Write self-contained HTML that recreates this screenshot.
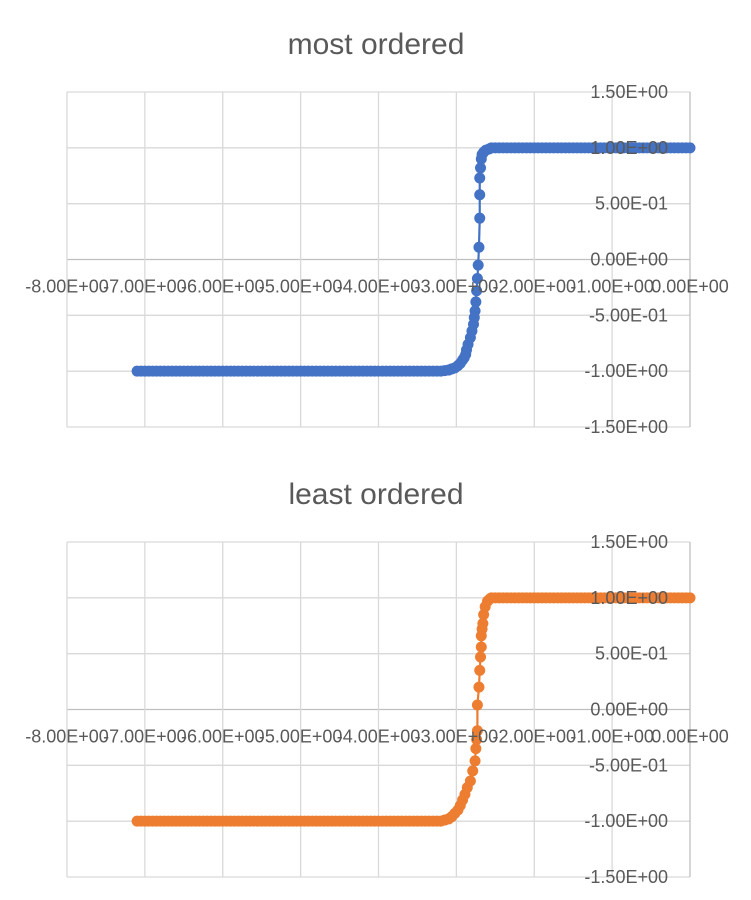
<!DOCTYPE html>
<html><head><meta charset="utf-8">
<style>
body{margin:0;background:#fff;}
svg{display:block;font-family:"Liberation Sans",sans-serif;}
</style></head>
<body>
<svg id="c" width="751" height="900"></svg>
<script>
const xTicks=[-8,-7,-6,-5,-4,-3,-2,-1,0];
const xTickLabels=["-8.00E+00","-7.00E+00","-6.00E+00","-5.00E+00","-4.00E+00","-3.00E+00","-2.00E+00","-1.00E+00","0.00E+00"];
const yTicks=[1.5,1,0.5,0,-0.5,-1,-1.5];
const yTickLabels=["1.50E+00","1.00E+00","5.00E-01","0.00E+00","-5.00E-01","-1.00E+00","-1.50E+00"];
const flatLeftX=[-7.1,-7.05,-7.0,-6.95,-6.9,-6.85,-6.8,-6.75,-6.7,-6.65,-6.6,-6.55,-6.5,-6.45,-6.4,-6.35,-6.3,-6.25,-6.2,-6.15,-6.1,-6.05,-6.0,-5.95,-5.9,-5.85,-5.8,-5.75,-5.7,-5.65,-5.6,-5.55,-5.5,-5.45,-5.4,-5.35,-5.3,-5.25,-5.2,-5.15,-5.1,-5.05,-5.0,-4.95,-4.9,-4.85,-4.8,-4.75,-4.7,-4.65,-4.6,-4.55,-4.5,-4.45,-4.4,-4.35,-4.3,-4.25,-4.2,-4.15,-4.1,-4.05,-4.0,-3.95,-3.9,-3.85,-3.8,-3.75,-3.7,-3.65,-3.6,-3.55,-3.5,-3.45,-3.4,-3.35,-3.3,-3.25,-3.2];
const flatRightX=[-2.5,-2.45,-2.4,-2.35,-2.3,-2.25,-2.2,-2.15,-2.1,-2.05,-2.0,-1.95,-1.9,-1.85,-1.8,-1.75,-1.7,-1.65,-1.6,-1.55,-1.5,-1.45,-1.4,-1.35,-1.3,-1.25,-1.2,-1.15,-1.1,-1.05,-1.0,-0.95,-0.9,-0.85,-0.8,-0.75,-0.7,-0.65,-0.6,-0.55,-0.5,-0.45,-0.4,-0.35,-0.3,-0.25,-0.2,-0.15,-0.1,-0.05,0.0];
const blueMidX=[-3.15,-3.1,-3.06,-3.02,-2.98,-2.95,-2.92,-2.9,-2.88,-2.87,-2.85,-2.82,-2.8,-2.78,-2.77,-2.76,-2.75,-2.74,-2.73,-2.72,-2.71,-2.7,-2.7,-2.7,-2.69,-2.68,-2.67,-2.65,-2.62,-2.58,-2.55];
const blueMidY=[-0.995,-0.99,-0.98,-0.97,-0.95,-0.93,-0.9,-0.88,-0.85,-0.81,-0.76,-0.7,-0.64,-0.58,-0.52,-0.46,-0.38,-0.28,-0.17,-0.05,0.11,0.37,0.58,0.73,0.82,0.9,0.94,0.96,0.98,0.99,1.0];
const orangeMidX=[-3.15,-3.1,-3.06,-3.02,-2.98,-2.95,-2.92,-2.89,-2.86,-2.82,-2.79,-2.76,-2.75,-2.74,-2.73,-2.73,-2.71,-2.7,-2.69,-2.68,-2.68,-2.67,-2.66,-2.65,-2.63,-2.6,-2.57,-2.55];
const orangeMidY=[-0.99,-0.98,-0.96,-0.93,-0.9,-0.86,-0.81,-0.76,-0.7,-0.64,-0.55,-0.46,-0.35,-0.27,-0.19,0.04,0.2,0.35,0.47,0.56,0.66,0.72,0.77,0.85,0.92,0.97,0.99,1.0];

const NS="http://www.w3.org/2000/svg";
const svg=document.getElementById('c');
function mk(t,a){const e=document.createElementNS(NS,t);for(const k in a)e.setAttribute(k,a[k]);return e;}
function chart(off,title,midX,midY,color,key){
  const L=67,R=690,T=92+off,B=427+off;
  const sx=v=>L+(v+8)/8*(R-L);
  const sy=v=>T+(1.5-v)/3*(B-T);
  const g=mk('g',{});
  
  
  svg.appendChild(g);
  const t=mk('text',{x:376,y:54+off,'text-anchor':'middle','font-size':30,fill:'#595959'});
  t.textContent=title;
  
  
  g.appendChild(t);
  yTicks.forEach((v,i)=>{
    const ln=mk('line',{x1:L,x2:R,y1:sy(v),y2:sy(v),stroke:v===0?'#bfbfbf':'#d9d9d9','stroke-width':1.3});
    
    
    g.appendChild(ln);
  });
  xTicks.forEach((v,i)=>{
    const ln=mk('line',{x1:sx(v),x2:sx(v),y1:T,y2:B,stroke:v===0?'#bfbfbf':'#d9d9d9','stroke-width':1.3});
    
    
    g.appendChild(ln);
  });
  const xs=flatLeftX.concat(midX,flatRightX);
  const ys=flatLeftX.map(()=>-1).concat(midY,flatRightX.map(()=>1));
  const pts=xs.map((x,i)=>sx(x)+','+sy(ys[i])).join(' ');
  const pl=mk('polyline',{points:pts,fill:'none',stroke:color,'stroke-width':2.2});
  
  
  g.appendChild(pl);
  xs.forEach((x,i)=>{
    const c=mk('circle',{cx:sx(x),cy:sy(ys[i]),r:5.5,fill:color});
    
    
    g.appendChild(c);
  });
  yTicks.forEach((v,i)=>{
    const tx=mk('text',{x:668,y:sy(v)+6,'text-anchor':'end','font-size':18,fill:'#595959'});
    tx.textContent=yTickLabels[i];
    
    
    g.appendChild(tx);
  });
  xTicks.forEach((v,i)=>{
    const tx=mk('text',{x:sx(v),y:sy(0)+33,'text-anchor':'middle','font-size':18,fill:'#595959'});
    tx.textContent=xTickLabels[i];
    
    
    g.appendChild(tx);
  });
}
chart(0,'most ordered',blueMidX,blueMidY,'#4472c4','most-ordered');
chart(450,'least ordered',orangeMidX,orangeMidY,'#ed7d31','least-ordered');
</script>
</body></html>
